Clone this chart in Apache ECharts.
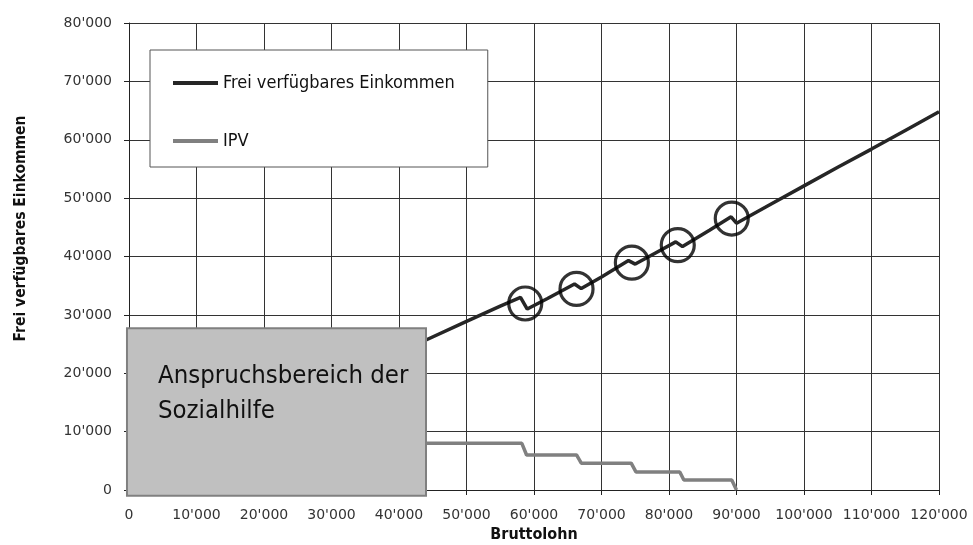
<!DOCTYPE html>
<html>
<head>
<meta charset="utf-8">
<script src="https://cdn.jsdelivr.net/npm/echarts@6/dist/echarts.min.js"></script>
<style>
html, body { margin: 0; padding: 0; background: #fff; }
#chart { width: 973px; height: 545px; }
</style>
</head>
<body>
<div id="chart"></div>
<script>
// Frei verfuegbares Einkommen (Bruttolohn -> Einkommen)
var lohnX = [40000, 44000, 50000, 55000, 58000, 59000, 62000, 66000, 67000, 70000, 74000, 75000, 78000, 81000, 82000, 86000, 89200, 90000, 95000, 100000, 105000, 110000, 115000, 120000];
var einkommenY = [23500, 25700, 28900, 31500, 33000, 31000, 32800, 35300, 34500, 36500, 39300, 38700, 40600, 42500, 41700, 44500, 46800, 45700, 48900, 52100, 55300, 58400, 61600, 64800];

// IPV (Praemienverbilligung), Stufen
var ipvX = [40000, 58200, 58900, 66300, 67000, 74400, 75100, 81600, 82200, 89300, 90000];
var ipvY = [8000, 8000, 6000, 6000, 4600, 4600, 3100, 3100, 1700, 1700, 0];

// markierte Schwelleneffekte (Kreise)
var kreisX = [58700, 66300, 74500, 81300, 89300];
var kreisY = [31950, 34450, 38950, 41950, 46500];

// Sozialhilfe-Bereich [x0, y0, x1, y1]
var sozialhilfe = [-300, -1000, 44000, 27700];
var sozialhilfeText = 'Anspruchsbereich der\nSozialhilfe';

var yTicks = [0, 10000, 20000, 30000, 40000, 50000, 60000, 70000, 80000];
var xTicks = [0, 10000, 20000, 30000, 40000, 50000, 60000, 70000, 80000, 90000, 100000, 110000, 120000];

function fmt(v) {
    if (v === 0) return '0';
    var s = String(v);
    return s.slice(0, s.length - 3) + "'" + s.slice(s.length - 3);
}
function zip(a, b) {
    var out = [];
    for (var i = 0; i < a.length; i++) out.push([a[i], b[i]]);
    return out;
}

var gridColor = '#333';
var labelFont = 'DejaVu Sans';
var dinFont = 'DejaVu Sans Condensed';

var option = {
    animation: false,
    backgroundColor: '#fff',
    grid: { left: 129, right: 34, top: 23, bottom: 55, outerBoundsMode: 'none', containLabel: false },
    legend: {
        data: ['Frei verfügbares Einkommen', 'IPV'],
        orient: 'vertical',
        left: 150,
        top: 50,
        padding: [23, 33, 16, 23],
        itemGap: 38,
        itemWidth: 45,
        itemHeight: 4,
        icon: 'rect',
        backgroundColor: '#fff',
        borderColor: '#555',
        borderWidth: 1,
        textStyle: { fontFamily: dinFont, fontSize: 18, lineHeight: 20, color: '#111' }
    },
    xAxis: {
        type: 'value',
        min: xTicks[0],
        max: xTicks[xTicks.length - 1],
        interval: 10000,
        name: 'Bruttolohn',
        nameLocation: 'middle',
        nameGap: 36,
        nameTextStyle: { fontFamily: dinFont, fontWeight: 'bold', fontSize: 16, color: '#111' },
        axisLine: { show: true, lineStyle: { color: '#222', width: 1 } },
        axisTick: { show: true, length: 5, lineStyle: { color: '#222' } },
        axisLabel: { margin: 18, fontFamily: labelFont, fontSize: 14, color: '#333', formatter: fmt },
        splitLine: { show: true, lineStyle: { color: gridColor, width: 1 } }
    },
    yAxis: {
        type: 'value',
        min: yTicks[0],
        max: yTicks[yTicks.length - 1],
        interval: 10000,
        name: 'Frei verfügbares Einkommen',
        nameLocation: 'middle',
        nameGap: 100,
        nameTextStyle: { fontFamily: dinFont, fontWeight: 'bold', fontSize: 15.5, color: '#111', padding: [0, 0, 0, 56] },
        axisLine: { show: true, lineStyle: { color: '#222', width: 1 } },
        axisTick: { show: true, length: 5, lineStyle: { color: '#222' } },
        axisLabel: { margin: 17, fontFamily: labelFont, fontSize: 14, color: '#333', formatter: fmt },
        splitLine: { show: true, lineStyle: { color: gridColor, width: 1 } }
    },
    series: [{
        name: 'Frei verfügbares Einkommen',
        type: 'line',
        data: zip(lohnX, einkommenY),
        symbol: 'none',
        lineStyle: { color: '#262626', width: 3.5 },
        itemStyle: { color: '#262626' },
        z: 3
    }, {
        name: 'IPV',
        type: 'line',
        data: zip(ipvX, ipvY),
        symbol: 'none',
        lineStyle: { color: '#808080', width: 3.5 },
        itemStyle: { color: '#808080' },
        z: 3
    }, {
        name: 'Kreise',
        type: 'scatter',
        data: zip(kreisX, kreisY),
        symbol: 'circle',
        symbolSize: 33,
        silent: true,
        itemStyle: { color: 'rgba(0,0,0,0)', borderColor: '#000', borderWidth: 3.2 },
        z: 4
    }, {
        name: 'Sozialhilfe',
        type: 'custom',
        data: [sozialhilfe],
        silent: true,
        z: 10,
        renderItem: function (params, api) {
            var p0 = api.coord([api.value(0), api.value(3)]);
            var p1 = api.coord([api.value(2), api.value(1)]);
            return {
                type: 'group',
                children: [{
                    type: 'rect',
                    shape: { x: p0[0], y: p0[1], width: p1[0] - p0[0], height: p1[1] - p0[1] },
                    style: { fill: '#c0c0c0', stroke: '#808080', lineWidth: 2 }
                }, {
                    type: 'text',
                    x: p0[0] + 31,
                    y: p0[1] + 31,
                    style: {
                        text: sozialhilfeText,
                        fontFamily: dinFont,
                        fontSize: 25.5,
                        lineHeight: 35,
                        fill: '#111',
                        align: 'left',
                        verticalAlign: 'top'
                    }
                }]
            };
        }
    }]
};

var myChart = echarts.init(document.getElementById('chart'));
myChart.setOption(option);
</script>
</body>
</html>
